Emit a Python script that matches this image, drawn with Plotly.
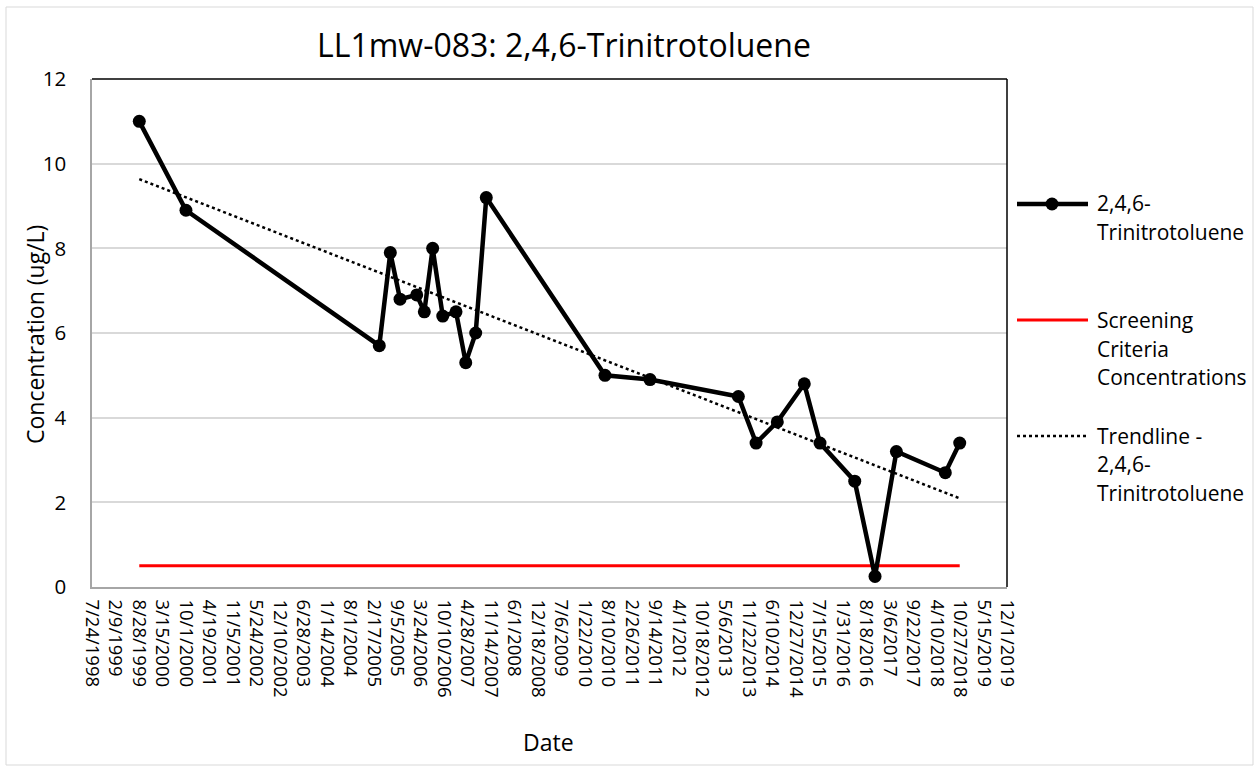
import numpy as np
import pandas as pd
import plotly.graph_objects as go

# ---------------- data ----------------
sample_dates = [
    "1999-08-31", "2000-10-02", "2005-04-07", "2005-07-10", "2005-10-01",
    "2006-02-20", "2006-04-26", "2006-07-06", "2006-09-30", "2007-01-21",
    "2007-04-14", "2007-07-08", "2007-10-06", "2010-07-14", "2011-08-02",
    "2013-08-24", "2014-01-22", "2014-07-22", "2015-03-09", "2015-07-21",
    "2016-05-12", "2016-11-01", "2017-05-02", "2018-06-23", "2018-10-24",
]
tnt_values = [
    11.0, 8.9, 5.7, 7.9, 6.8,
    6.9, 6.5, 8.0, 6.4, 6.5,
    5.3, 6.0, 9.2, 5.0, 4.9,
    4.5, 3.4, 3.9, 4.8, 3.4,
    2.5, 0.25, 3.2, 2.7, 3.4,
]
screening_value = 0.5

x_tick_labels = [
    "7/24/1998", "2/9/1999", "8/28/1999", "3/15/2000", "10/1/2000", "4/19/2001",
    "11/5/2001", "5/24/2002", "12/10/2002", "6/28/2003", "1/14/2004", "8/1/2004",
    "2/17/2005", "9/5/2005", "3/24/2006", "10/10/2006", "4/28/2007", "11/14/2007",
    "6/1/2008", "12/18/2008", "7/6/2009", "1/22/2010", "8/10/2010", "2/26/2011",
    "9/14/2011", "4/1/2012", "10/18/2012", "5/6/2013", "11/22/2013", "6/10/2014",
    "12/27/2014", "7/15/2015", "1/31/2016", "8/18/2016", "3/6/2017", "9/22/2017",
    "4/10/2018", "10/27/2018", "5/15/2019", "12/1/2019",
]
y_tick_values = [0, 2, 4, 6, 8, 10, 12]

title_text = "LL1mw-083: 2,4,6-Trinitrotoluene"
series_name = "2,4,6-Trinitrotoluene"
screen_name = "Screening Criteria Concentrations"
trend_name = "Trendline - 2,4,6-Trinitrotoluene"

# ---------------- derived ----------------
dates = pd.to_datetime(sample_dates)
tick_dates = pd.to_datetime(x_tick_labels, format="%m/%d/%Y")

# linear trendline (least squares vs. date), drawn from first to last sample
days = (dates - dates[0]).days.to_numpy(dtype=float)
slope, intercept = np.polyfit(days, np.array(tnt_values), 1)
trend_x = [dates[0], dates[-1]]
trend_y = [intercept, intercept + slope * days[-1]]

# ---------------- geometry (pixels) ----------------
W, H = 1254, 766
L, R, T, B = 92, 1007, 79, 587
PW, PH = R - L, B - T


def px(x):
    return (x - L) / PW


def py(y):
    return (B - y) / PH


FONT = "'Open Sans', Lato, sans-serif"

fig = go.Figure()

fig.add_trace(go.Scatter(
    x=[dates[0], dates[-1]], y=[screening_value, screening_value],
    mode="lines", line=dict(color="#ff0000", width=3),
    name=screen_name, showlegend=False, hoverinfo="skip"))

fig.add_trace(go.Scatter(
    x=trend_x, y=trend_y, mode="lines",
    line=dict(color="black", width=2.5, dash="dot"),
    name=trend_name, showlegend=False, hoverinfo="skip"))

fig.add_trace(go.Scatter(
    x=dates, y=tnt_values, mode="lines+markers",
    line=dict(color="black", width=4.5),
    marker=dict(color="black", size=13),
    name=series_name, showlegend=False))

shapes = []
annotations = []

# outer chart border
shapes.append(dict(type="rect", xref="paper", yref="paper",
                   x0=px(6), x1=px(1253), y0=py(765), y1=py(7),
                   line=dict(color="#d9d9d9", width=1), layer="below"))
# plot-area top/right border (black)
shapes.append(dict(type="line", xref="paper", yref="paper",
                   x0=0, x1=1, y0=1, y1=1, line=dict(color="black", width=1.5)))
shapes.append(dict(type="line", xref="paper", yref="paper",
                   x0=1, x1=1, y0=0, y1=1, line=dict(color="black", width=1.5)))

# manual legend
LX0, LX1, LTX = 1017, 1088, 1095
leg_font = dict(family=FONT, size=21, color="black")
# entry 1
shapes.append(dict(type="line", xref="paper", yref="paper",
                   x0=px(LX0), x1=px(LX1), y0=py(204), y1=py(204),
                   line=dict(color="black", width=4.5)))
shapes.append(dict(type="circle", xref="paper", yref="paper",
                   x0=px(1052 - 6.5), x1=px(1052 + 6.5),
                   y0=py(204 + 6.5), y1=py(204 - 6.5),
                   fillcolor="black", line=dict(color="black", width=0)))
# entry 2
shapes.append(dict(type="line", xref="paper", yref="paper",
                   x0=px(LX0), x1=px(LX1), y0=py(320), y1=py(320),
                   line=dict(color="#ff0000", width=3)))
# entry 3
shapes.append(dict(type="line", xref="paper", yref="paper",
                   x0=px(LX0), x1=px(LX1), y0=py(436), y1=py(436),
                   line=dict(color="black", width=2.5, dash="dot")))

legend_lines = [
    ("2,4,6-", 203), ("Trinitrotoluene", 232),
    ("Screening", 320), ("Criteria", 349), ("Concentrations", 377),
    ("Trendline -", 436), ("2,4,6-", 464), ("Trinitrotoluene", 493),
]
for txt, yy in legend_lines:
    annotations.append(dict(text=txt, xref="paper", yref="paper",
                            x=px(LTX), y=py(yy), xanchor="left", yanchor="middle",
                            showarrow=False, font=leg_font))

# titles
annotations.append(dict(text=title_text, xref="paper", yref="paper",
                        x=px(564), y=py(45), xanchor="center", yanchor="middle",
                        showarrow=False, font=dict(family=FONT, size=32, color="black")))
annotations.append(dict(text="Concentration (ug/L)", xref="paper", yref="paper",
                        x=px(35), y=py(335), xanchor="center", yanchor="middle",
                        textangle=-90, showarrow=False,
                        font=dict(family=FONT, size=23, color="black")))
annotations.append(dict(text="Date", xref="paper", yref="paper",
                        x=px(548), y=py(742), xanchor="center", yanchor="middle",
                        showarrow=False, font=dict(family=FONT, size=23, color="black")))

fig.update_layout(
    width=W, height=H,
    margin=dict(l=L, r=W - R, t=T, b=H - B, pad=0),
    paper_bgcolor="white", plot_bgcolor="white",
    showlegend=False,
    shapes=shapes, annotations=annotations,
    font=dict(family=FONT, color="black"),
)

fig.update_xaxes(
    type="date",
    range=[tick_dates[0], tick_dates[-1]],
    tickmode="array", tickvals=tick_dates, ticktext=x_tick_labels,
    tickangle=90, tickfont=dict(family=FONT, size=18.5, color="black"),
    showgrid=False, zeroline=False,
    showline=True, linecolor="#a6a6a6", linewidth=1.5,
    ticks="outside", ticklen=7, tickcolor="rgba(0,0,0,0)",
)
fig.update_yaxes(
    range=[0, 12], tickmode="array", tickvals=y_tick_values,
    tickfont=dict(family=FONT, size=20.5, color="black"),
    showgrid=True, gridcolor="#d9d9d9", gridwidth=1.5,
    zeroline=False, showline=True, linecolor="#a6a6a6", linewidth=1.5,
    ticks="outside", ticklen=20, tickcolor="rgba(0,0,0,0)",
)

fig.write_html("out.html", config={"displayModeBar": False},
               post_script="document.body.style.margin='0';")
